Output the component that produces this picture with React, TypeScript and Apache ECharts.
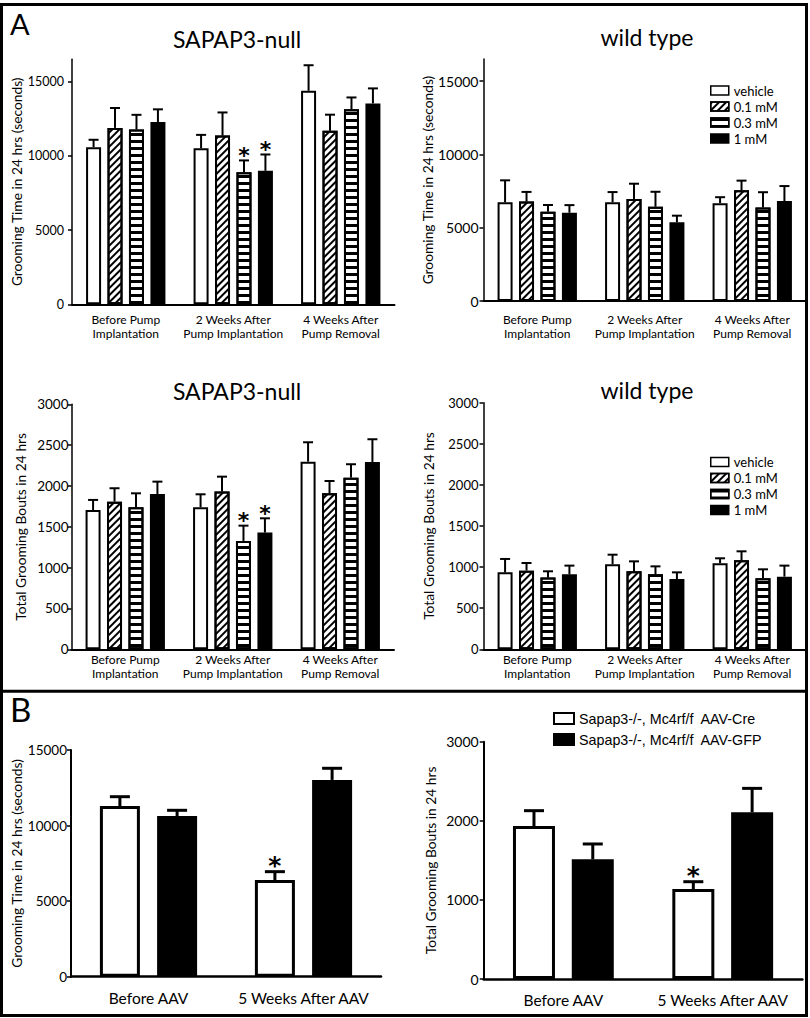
import React, { useEffect, useRef } from 'react';
import * as echarts from 'echarts';

// ---------- data ----------
const catsA = ['Before Pump\nImplantation', '2 Weeks After\nPump Implantation', '4 Weeks After\nPump Removal'];
const doses = ['vehicle', '0.1 mM', '0.3 mM', '1 mM'];

// SAPAP3-null, grooming time (s): rows = dose, cols = category
const nullTimeMean = [
  [10580, 10510, 14380],
  [11880, 11360, 11680],
  [11770, 8900, 13130],
  [12280, 8990, 13530],
];
const nullTimeSem = [
  [500, 900, 1720],
  [1340, 1560, 1090],
  [990, 790, 800],
  [850, 1100, 1010],
];
const nullTimeSig = [[0, 0, 0], [0, 0, 0], [0, 1, 0], [0, 1, 0]];

// wild type, grooming time (s)
const wildTimeMean = [
  [6730, 6730, 6670],
  [6780, 6960, 7550],
  [6090, 6430, 6370],
  [6020, 5370, 6820],
];
const wildTimeSem = [
  [1500, 700, 410],
  [660, 1040, 660],
  [460, 1020, 1050],
  [520, 450, 1020],
];
const noSig = [[0, 0, 0], [0, 0, 0], [0, 0, 0], [0, 0, 0]];

// SAPAP3-null, grooming bouts
const nullBoutMean = [
  [1706, 1739, 2298],
  [1808, 1931, 1910],
  [1739, 1327, 2102],
  [1902, 1429, 2294],
];
const nullBoutSem = [
  [123, 159, 237],
  [164, 183, 151],
  [171, 187, 164],
  [151, 175, 278],
];
const nullBoutSig = [[0, 0, 0], [0, 0, 0], [0, 1, 0], [0, 1, 0]];

// wild type, grooming bouts
const wildBoutMean = [
  [936, 1034, 1046],
  [957, 949, 1082],
  [872, 912, 863],
  [912, 855, 884],
];
const wildBoutSem = [
  [163, 117, 61],
  [93, 121, 110],
  [77, 97, 110],
  [106, 81, 134],
];

// Panel B
const catsB = ['Before AAV', '5 Weeks After AAV'];
const groupsB = ['Sapap3-/-, Mc4rf/f  AAV-Cre', 'Sapap3-/-, Mc4rf/f  AAV-GFP'];
const bTimeMean = [[11290, 6400], [10630, 13020]];
const bTimeSem = [[620, 550], [380, 770]];
const bBoutMean = [[1934, 1138], [1513, 2107]];
const bBoutSem = [[194, 92], [194, 303]];
const bSig = [[0, 1], [0, 0]];

const timeTicks = [0, 5000, 10000, 15000];
const boutTicksA = [0, 500, 1000, 1500, 2000, 2500, 3000];
const boutTicksB = [0, 1000, 2000, 3000];

// ---------- styles ----------
const FONT = 'Lato, "Open Sans", sans-serif';
const ARIAL = '"Liberation Sans", Arial, sans-serif';
const STAR_FONT = '"DejaVu Sans", sans-serif';

const hatch = {
  symbol: 'rect', symbolSize: 1, dashArrayX: [1, 0], dashArrayY: [1.6, 2.4],
  rotation: -Math.PI / 4, color: '#000', backgroundColor: 'rgba(0,0,0,0)',
};
const stripes = {
  symbol: 'rect', symbolSize: 1, dashArrayX: [1, 0], dashArrayY: [2.3, 3.7],
  rotation: 0, color: '#000', backgroundColor: 'rgba(0,0,0,0)',
};
const doseStyles = [
  { color: '#fff', borderColor: '#000', borderWidth: 2 },
  { color: '#fff', borderColor: '#000', borderWidth: 2, decal: hatch },
  { color: '#fff', borderColor: '#000', borderWidth: 2, decal: stripes },
  { color: '#000', borderColor: '#000', borderWidth: 2 },
];
const bStyles = [
  { color: '#fff', borderColor: '#000', borderWidth: 3 },
  { color: '#000', borderColor: '#000', borderWidth: 3 },
];

type Panel = {
  grid: { left: number; top: number; width: number; height: number };
  cats: string[]; names: string[]; mean: number[][]; sem: number[][]; sig: number[][];
  styles: any[]; max: number; ticks: number[]; yName: string; nameGap: number; nameSize: number;
  tickSize: number; tickMargin: number; catSize: number; catMargin: number; catLH: number;
  barWidth: number; barGap: number; capW: number; lineW: number; axisW: number;
  starSize: number; starDy: number;
};

const aCommon = {
  cats: catsA, names: doses, styles: doseStyles, catSize: 12, catLH: 14,
  barWidth: 15, barGap: 0.43, capW: 10, lineW: 2, axisW: 2, starSize: 22, starDy: 5, nameSize: 13.8,
};

const panels: Panel[] = [
  { ...aCommon, grid: { left: 72, top: 59.3, width: 322.5, height: 245 }, mean: nullTimeMean, sem: nullTimeSem, sig: nullTimeSig,
    max: 16500, ticks: timeTicks, yName: 'Grooming Time in 24 hrs (seconds)', nameGap: 48, tickSize: 12.5, tickMargin: 8, catMargin: 8 },
  { ...aCommon, grid: { left: 483.5, top: 59.1, width: 322.5, height: 241.9 }, mean: wildTimeMean, sem: wildTimeSem, sig: noSig,
    max: 16500, ticks: timeTicks, yName: 'Grooming Time in 24 hrs (seconds)', nameGap: 48, tickSize: 14, tickMargin: 5, catMargin: 11 },
  { ...aCommon, grid: { left: 71.5, top: 404.3, width: 322.5, height: 245 }, mean: nullBoutMean, sem: nullBoutSem, sig: nullBoutSig,
    max: 3000, ticks: boutTicksA, yName: 'Total Grooming Bouts in 24 hrs', nameGap: 44, tickSize: 13.5, tickMargin: 3, catMargin: 3 },
  { ...aCommon, grid: { left: 483.5, top: 402.7, width: 322.5, height: 246.6 }, mean: wildBoutMean, sem: wildBoutSem, sig: noSig,
    max: 3000, ticks: boutTicksA, yName: 'Total Grooming Bouts in 24 hrs', nameGap: 48, tickSize: 13, tickMargin: 5, catMargin: 3 },
  { grid: { left: 71, top: 750, width: 310, height: 226.7 }, cats: catsB, names: groupsB, mean: bTimeMean, sem: bTimeSem, sig: bSig,
    styles: bStyles, max: 15000, ticks: timeTicks, yName: 'Grooming Time in 24 hrs (seconds)', nameGap: 44.5, nameSize: 13.8,
    tickSize: 13.5, tickMargin: 4, catSize: 15.5, catMargin: 12, catLH: 18, barWidth: 40, barGap: 0.43, capW: 20, lineW: 3, axisW: 2.5,
    starSize: 25, starDy: 6 },
  { grid: { left: 483.7, top: 741.7, width: 318.7, height: 237.3 }, cats: catsB, names: groupsB, mean: bBoutMean, sem: bBoutSem, sig: bSig,
    styles: bStyles, max: 3000, ticks: boutTicksB, yName: 'Total Grooming Bouts in 24 hrs', nameGap: 46.5, nameSize: 13.8,
    tickSize: 14, tickMargin: 5, catSize: 15.5, catMargin: 12, catLH: 18, barWidth: 42, barGap: 0.4, capW: 20, lineW: 3, axisW: 2.5,
    starSize: 25, starDy: 6 },
];

function buildOption() {
  const grid: any[] = [];
  const xAxis: any[] = [];
  const yAxis: any[] = [];
  const bars: any[] = [];
  const errs: any[] = [];

  panels.forEach((p, g) => {
    grid.push({ ...p.grid });
    xAxis.push({
      type: 'category', gridIndex: g, data: p.cats,
      axisLine: { lineStyle: { color: '#000', width: p.axisW } },
      axisTick: { alignWithLabel: true, interval: 0, length: 5, lineStyle: { color: '#000', width: 1.5 } },
      axisLabel: { interval: 0, color: '#000', fontFamily: FONT, fontSize: p.catSize, lineHeight: p.catLH, margin: p.catMargin },
    });
    yAxis.push({
      type: 'value', gridIndex: g, min: 0, max: p.max,
      name: p.yName, nameLocation: 'middle', nameGap: p.nameGap,
      nameTextStyle: { color: '#000', fontFamily: FONT, fontSize: p.nameSize },
      axisLine: { show: true, lineStyle: { color: '#000', width: p.axisW - 0.5 } },
      axisTick: { show: true, length: 4, customValues: p.ticks, lineStyle: { color: '#000', width: 1.5 } },
      axisLabel: {
        customValues: p.ticks, color: '#000', fontFamily: FONT, fontSize: p.tickSize, margin: p.tickMargin,
        formatter: (v: number) => String(v),
      },
      splitLine: { show: false },
    });
    const n = p.names.length;
    const step = p.barWidth * (1 + p.barGap);
    p.names.forEach((name, i) => {
      bars.push({
        type: 'bar', name, xAxisIndex: g, yAxisIndex: g, data: p.mean[i],
        barWidth: p.barWidth, barGap: `${p.barGap * 100}%`, itemStyle: p.styles[i], silent: true,
      });
    });
    p.names.forEach((name, i) => {
      const offset = (i - (n - 1) / 2) * step;
      errs.push({
        type: 'custom', name, xAxisIndex: g, yAxisIndex: g, z: 5, silent: true,
        data: p.mean[i].map((m, j) => [j, m, m + p.sem[i][j], p.sig[i][j]]),
        encode: { x: 0, y: 1 },
        renderItem: (params: any, api: any) => {
          const c = api.value(0);
          const base = api.coord([c, api.value(1)]);
          const top = api.coord([c, api.value(2)]);
          const x = base[0] + offset;
          const ls = { stroke: '#000', lineWidth: p.lineW };
          const children: any[] = [
            { type: 'line', shape: { x1: x, y1: base[1], x2: x, y2: top[1] }, style: ls },
            { type: 'line', shape: { x1: x - p.capW / 2, y1: top[1], x2: x + p.capW / 2, y2: top[1] }, style: ls },
          ];
          if (api.value(3)) {
            children.push({
              type: 'text', x, y: top[1] - p.starDy,
              style: { text: '*', fill: '#000', fontFamily: STAR_FONT, fontWeight: 'bold', fontSize: p.starSize,
                textAlign: 'center', textVerticalAlign: 'middle', align: 'center', verticalAlign: 'middle' },
            });
          }
          return { type: 'group', children };
        },
      });
    });
  });

  const txt = (text: string, x: number, y: number, size: number, align = 'center') => ({
    type: 'text', x, y, silent: true,
    style: { text, fill: '#000', fontFamily: FONT, fontSize: size, textAlign: align, textVerticalAlign: 'middle', align, verticalAlign: 'middle' },
  });

  const legendBase = {
    orient: 'vertical', padding: 0, icon: 'rect', selectedMode: false,
  };

  return {
    animation: false,
    backgroundColor: '#fff',
    grid, xAxis, yAxis,
    legend: [
      { ...legendBase, data: doses, left: 710, top: 84, itemWidth: 18, itemHeight: 9, itemGap: 3,
        textStyle: { color: '#000', fontFamily: FONT, fontSize: 13 }, itemStyle: { borderColor: '#000', borderWidth: 1.5 } },
      { ...legendBase, data: doses, left: 710, top: 455.5, itemWidth: 18, itemHeight: 9, itemGap: 3,
        textStyle: { color: '#000', fontFamily: FONT, fontSize: 13 }, itemStyle: { borderColor: '#000', borderWidth: 1.5 } },
      { ...legendBase, data: groupsB, left: 553, top: 711.5, itemWidth: 20, itemHeight: 11, itemGap: 7,
        textStyle: { color: '#000', fontFamily: ARIAL, fontSize: 14.3 }, itemStyle: { borderColor: '#000', borderWidth: 2 } },
    ],
    series: [...bars, ...errs],
    graphic: [
      { type: 'rect', silent: true, shape: { x: 1.5, y: 4.5, width: 805, height: 1011 }, style: { fill: 'none', stroke: '#000', lineWidth: 3 } },
      { type: 'line', silent: true, shape: { x1: 0, y1: 691.3, x2: 808, y2: 691.3 }, style: { stroke: '#000', lineWidth: 3 } },
      txt('A', 10, 23, 29, 'left'),
      txt('B', 10, 709, 33, 'left'),
      txt('SAPAP3-null', 237, 39, 23),
      txt('wild type', 647, 37, 23),
      txt('SAPAP3-null', 237, 390.5, 23),
      txt('wild type', 647, 390, 23),
    ],
  };
}

export default function App() {
  const ref = useRef<HTMLDivElement>(null);
  useEffect(() => {
    document.body.style.margin = '0';
    const chart = echarts.init(ref.current!, null, { renderer: 'svg', width: 810, height: 1018 });
    chart.setOption(buildOption() as any);
    return () => chart.dispose();
  }, []);
  return <div ref={ref} style={{ width: 810, height: 1018 }} />;
}
